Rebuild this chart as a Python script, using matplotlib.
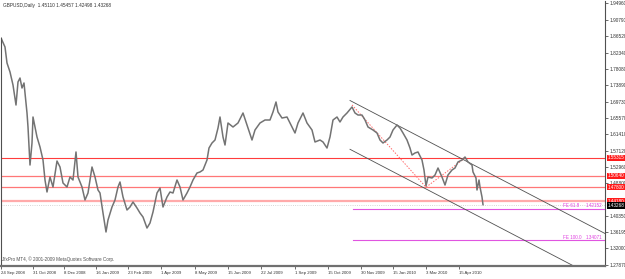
import matplotlib
matplotlib.use('Agg')
import matplotlib.pyplot as plt
import matplotlib.transforms as mtransforms

plt.rcParams['font.family'] = ['Liberation Sans', 'DejaVu Sans']

# Price path (bar index, close)
bars = [1, 5, 7, 10, 13, 16, 18, 20, 22, 24,
        27, 28, 30, 32, 33, 37, 40, 43, 45, 47,
        50, 53, 57, 60, 63, 67, 70, 73, 76, 78,
        82, 85, 88, 92, 95, 98, 100, 103, 106, 108,
        112, 115, 118, 120, 123, 127, 130, 133, 137, 140,
        143, 147, 150, 153, 157, 160, 163, 167, 170, 173,
        177, 180, 183, 187, 190, 193, 197, 200, 203, 207,
        209, 212, 215, 218, 220, 223, 225, 228, 233, 238,
        243, 247, 252, 255, 260, 265, 270, 273, 276, 278,
        282, 287, 292, 295, 298, 303, 307, 312, 315, 320,
        323, 327, 330, 333, 337, 340, 343, 347, 352, 355,
        358, 362, 365, 368, 373, 377, 380, 383, 387, 390,
        393, 397, 400, 403, 407, 410, 412, 415, 418, 422,
        424, 426, 428, 432, 435, 438, 442, 445, 448, 452,
        455, 458, 462, 465, 468, 472, 473, 476, 477, 479,
        480, 482, 483]
closes = [1.8609, 1.8378, 1.7967, 1.7736, 1.7401, 1.6887, 1.7479, 1.7581, 1.7324, 1.7453,
          1.6682, 1.6322, 1.5345, 1.5911, 1.6579, 1.6065, 1.5808, 1.5474, 1.4960, 1.4652,
          1.5037, 1.4780, 1.5448, 1.5294, 1.4883, 1.4780, 1.5037, 1.4960, 1.5680, 1.5037,
          1.4780, 1.4446, 1.4626, 1.5294, 1.5037, 1.4703, 1.4626, 1.4112, 1.3624, 1.3932,
          1.4266, 1.4446, 1.4780, 1.4909, 1.4523, 1.4189, 1.4266, 1.4395, 1.4240, 1.4112,
          1.4009, 1.3726, 1.3855, 1.4138, 1.4626, 1.4754, 1.4266, 1.4523, 1.4652, 1.4626,
          1.4960, 1.4780, 1.4446, 1.4626, 1.4780, 1.4960, 1.5140, 1.5166, 1.5217, 1.5474,
          1.5782, 1.5911, 1.5988, 1.6296, 1.6579, 1.6065, 1.5859, 1.6425, 1.6322, 1.6425,
          1.6682, 1.6373, 1.5988, 1.6245, 1.6425, 1.6502, 1.6502, 1.6708, 1.6965, 1.6708,
          1.6553, 1.6579, 1.6322, 1.6168, 1.6425, 1.6682, 1.6425, 1.6245, 1.5937, 1.5988,
          1.5937, 1.5782, 1.6065, 1.6502, 1.6579, 1.6451, 1.6579, 1.6682, 1.6836, 1.6682,
          1.6630, 1.6630, 1.6502, 1.6322, 1.6245, 1.6168, 1.5988, 1.5911, 1.5988, 1.6065,
          1.6245, 1.6373, 1.6296, 1.6168, 1.5988, 1.5782, 1.5602, 1.5654, 1.5680, 1.5474,
          1.5217, 1.4806, 1.5037, 1.5011, 1.5088, 1.5268, 1.5037, 1.4831, 1.5088, 1.5217,
          1.5268, 1.5423, 1.5474, 1.5551, 1.5423, 1.5345, 1.5166, 1.5011, 1.4703, 1.4960,
          1.4780, 1.4523, 1.4327]

# Axis labels
date_bars = [1, 33, 64, 96, 128, 161, 195, 228, 261, 295, 328, 361, 393, 426, 459]
date_labels = ['24 Sep 2008', '31 Oct 2008', '8 Dec 2008', '16 Jan 2009', '23 Feb 2009',
               '1 Apr 2009', '8 May 2009', '15 Jun 2009', '22 Jul 2009', '1 Sep 2009',
               '15 Oct 2009', '30 Nov 2009', '15 Jan 2010', '3 Mar 2010', '15 Apr 2010']
price_ticks = [1.94960, 1.90790, 1.86520, 1.82340, 1.78080, 1.73890, 1.69730, 1.65570,
               1.61410, 1.57120, 1.52960, 1.48800, 1.40350, 1.36195, 1.32000, 1.27870]

# Horizontal support / resistance levels
red_levels = [1.55315, 1.50640, 1.47800, 1.44180]
red_colors = ['#ff3c3c', '#ff7777', '#ff7777', '#ffaaaa']
red_widths = [0.8, 0.9, 0.9, 1.6]
bid = 1.43268

# Fibonacci expansion (A, B, C anchors) and levels
fe_bars = [352, 426, 465]
fe_prices = [1.6890, 1.4775, 1.5523]
fe_start = 353
fe_levels = [1.42152, 1.34071]
fe_names = ['FE 61.8', 'FE 100.0']

# Regression channel anchors
chan_bars = [350, 605]
chan_upper = [1.7003, 1.3585]
chan_lower = [1.5749, 1.2331]

ohlc_text = 'GBPUSD,Daily  1.45110 1.45457 1.42498 1.43268'
copyright_text = 'JfxPro MT4, \u00a9 2001-2009 MetaQuotes Software Corp.'

fig = plt.figure(figsize=(6.25, 2.79), dpi=100)
ax = fig.add_axes([1 / 625, 13 / 279, 604 / 625, 265 / 279])
ax.set_xlim(1, 605)
ax.set_ylim(1.2750, 1.9560)

# Levels
for lvl, c, w in zip(red_levels, red_colors, red_widths):
    ax.axhline(lvl, color=c, lw=w, zorder=1)
ax.axhline(bid, color='#c8c8c8', lw=0.6, ls=':', zorder=1)

for lvl, name in zip(fe_levels, fe_names):
    ax.plot([fe_start, 605], [lvl, lvl], color='#e055e0', lw=0.8, zorder=1)
    ax.text(563, lvl + 0.002, name, color='#e040e0', fontsize=3.3, va='bottom', ha='left')
    ax.text(586, lvl + 0.002, '%.5f' % lvl, color='#e040e0', fontsize=3.3, va='bottom', ha='left')

ax.plot(fe_bars, fe_prices, color='#ff6a6a', lw=0.7, ls=(0, (1.5, 1.5)), zorder=1)

ax.plot(chan_bars, chan_upper, color='#505050', lw=0.6, zorder=1)
ax.plot(chan_bars, chan_lower, color='#505050', lw=0.6, zorder=1)

# Price
ax.plot(bars, closes, color='#737373', lw=1.1, zorder=2)

# Frame
ax.spines['top'].set_visible(False)
ax.spines['left'].set_color('#505050')
ax.spines['left'].set_linewidth(0.8)
ax.spines['left'].set_bounds(1.2750, closes[0])
ax.spines['right'].set_color('#505050')
ax.spines['right'].set_linewidth(0.8)
ax.spines['bottom'].set_color('#707070')
ax.spines['bottom'].set_linewidth(1.6)

ax.yaxis.tick_right()
ax.set_yticks(price_ticks)
ax.set_yticklabels(['%.5f' % p for p in price_ticks])
ax.tick_params(axis='y', length=2, width=0.5, pad=1, labelsize=3.4, colors='#303030')

ax.set_xticks(date_bars)
ax.set_xticklabels(date_labels)
ax.tick_params(axis='x', length=2.5, width=0.5, pad=1, labelsize=3.1, colors='#303030')
for lbl in ax.get_xticklabels():
    lbl.set_horizontalalignment('left')

# Price boxes on the right scale
trans = mtransforms.blended_transform_factory(ax.transAxes, ax.transData)
for lvl in red_levels:
    ax.text(1.004, lvl, '%.5f' % lvl, transform=trans, color='white', fontsize=3.3,
            va='center', ha='left', clip_on=False, zorder=5,
            bbox=dict(boxstyle='square,pad=0.15', fc='#ff1a1a', ec='none'))
ax.text(1.004, bid - 0.002, '%.5f' % bid, transform=trans, color='white', fontsize=3.3,
        va='center', ha='left', clip_on=False, zorder=6,
        bbox=dict(boxstyle='square,pad=0.15', fc='black', ec='none'))

fig.text(3 / 625, 1 - 6 / 279, ohlc_text, fontsize=3.4, color='#303030', va='center', ha='left')
fig.text(2 / 625, 1 - 259 / 279, copyright_text, fontsize=3.3, color='#505050', va='center', ha='left')

fig.savefig('out.png', dpi=100)
